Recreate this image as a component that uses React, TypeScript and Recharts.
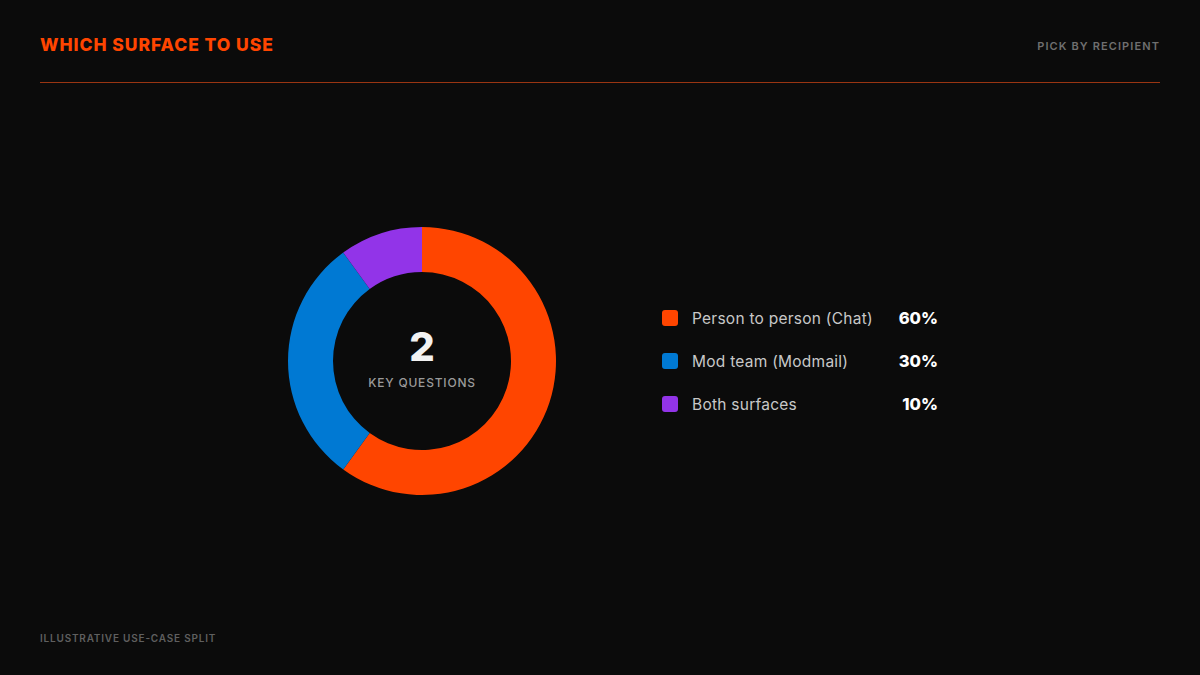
import React from "react";
import { PieChart, Pie, Cell } from "recharts";

const categories = ["Person to person (Chat)", "Mod team (Modmail)", "Both surfaces"];
const values = [60, 30, 10];
const colors = ["#FF4500", "#0079D3", "#9234E8"];
const percentLabels = ["60%", "30%", "10%"];

const data = categories.map((name, i) => ({ name, value: values[i] }));

const FONT = "Inter, 'Open Sans', sans-serif";

export default function App() {
  return (
    <div
      style={{
        position: "absolute",
        left: 0,
        top: 0,
        width: 1200,
        height: 675,
        background: "#0b0b0b",
        fontFamily: FONT,
        overflow: "hidden",
      }}
    >
      <div
        style={{
          position: "absolute",
          left: 40,
          top: 33,
          fontSize: 17.5,
          fontWeight: 800,
          color: "#FF4500",
          letterSpacing: 0.95,
          lineHeight: "24px",
        }}
      >
        WHICH SURFACE TO USE
      </div>
      <div
        style={{
          position: "absolute",
          right: 40,
          top: 38,
          fontSize: 11,
          fontWeight: 600,
          color: "#6f6f6f",
          letterSpacing: 1.1,
          lineHeight: "16px",
        }}
      >
        PICK BY RECIPIENT
      </div>
      <div
        style={{
          position: "absolute",
          left: 40,
          top: 82,
          width: 1120,
          height: 1,
          background: "#9a3512",
        }}
      />

      <div style={{ position: "absolute", left: 267, top: 206 }}>
        <PieChart width={310} height={310} margin={{ top: 0, right: 0, bottom: 0, left: 0 }}>
          <Pie
            data={data}
            dataKey="value"
            nameKey="name"
            cx={155}
            cy={155}
            innerRadius={89}
            outerRadius={134}
            startAngle={90}
            endAngle={-270}
            stroke="none"
            isAnimationActive={false}
          >
            {data.map((d, i) => (
              <Cell key={d.name} fill={colors[i]} />
            ))}
          </Pie>
        </PieChart>
      </div>

      <div
        style={{
          position: "absolute",
          left: 322,
          top: 322,
          width: 200,
          textAlign: "center",
          fontSize: 40,
          fontWeight: 800,
          color: "#f2f2f2",
          lineHeight: "50px",
        }}
      >
        2
      </div>
      <div
        style={{
          position: "absolute",
          left: 322,
          top: 375,
          width: 200,
          textAlign: "center",
          fontSize: 12,
          fontWeight: 500,
          color: "#9a9a9a",
          letterSpacing: 0.8,
          lineHeight: "16px",
        }}
      >
        KEY QUESTIONS
      </div>

      {data.map((d, i) => (
        <div
          key={d.name}
          style={{
            position: "absolute",
            left: 662,
            top: 308 + i * 43,
            width: 280,
            height: 20,
            display: "flex",
            alignItems: "center",
          }}
        >
          <div
            style={{
              width: 16,
              height: 16,
              borderRadius: 3,
              background: colors[i],
            }}
          />
          <div
            style={{
              marginLeft: 14,
              fontSize: 15.5,
              color: "#c8c8c8",
              fontWeight: 400,
              letterSpacing: 0.25,
              flex: "none",
            }}
          >
            {d.name}
          </div>
          <div
            style={{
              position: "absolute",
              right: 4,
              fontSize: 16.5,
              fontWeight: 800,
              color: "#ffffff",
            }}
          >
            {percentLabels[i]}
          </div>
        </div>
      ))}

      <div
        style={{
          position: "absolute",
          left: 40,
          top: 631,
          fontSize: 10,
          fontWeight: 600,
          color: "#5f5f5f",
          letterSpacing: 0.8,
          lineHeight: "14px",
        }}
      >
        ILLUSTRATIVE USE-CASE SPLIT
      </div>
    </div>
  );
}
